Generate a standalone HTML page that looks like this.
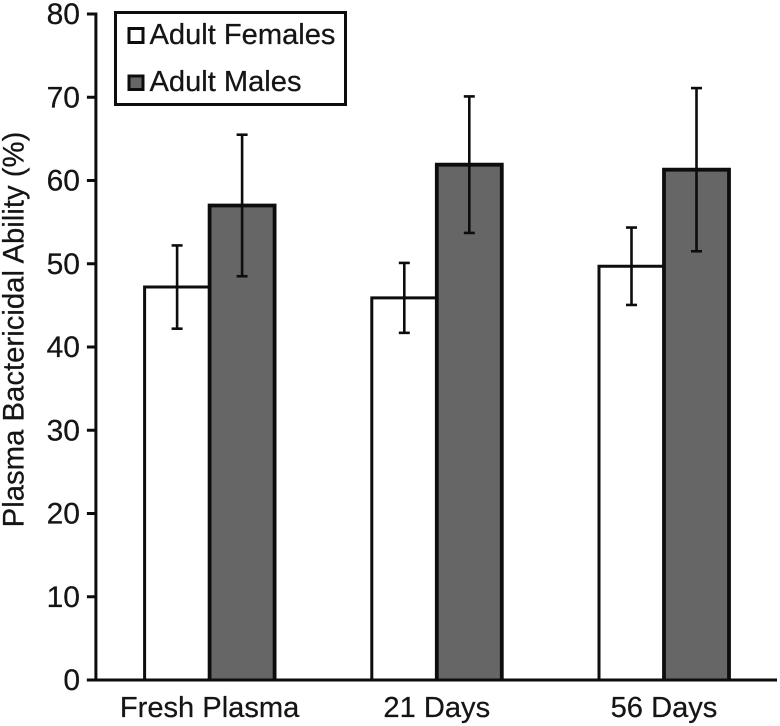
<!DOCTYPE html>
<html lang="en">
<head>
<meta charset="utf-8">
<title>Plasma Bactericidal Ability</title>
<style>
html,body{margin:0;padding:0;background:#fff;}
svg{display:block;}
text{font-family:"Liberation Sans",Arial,sans-serif;fill:#151515;stroke:#151515;stroke-width:0.25px;font-size:29.1px;}
</style>
</head>
<body>
<svg id="chart" width="780" height="726" viewBox="0 0 780 726" xmlns="http://www.w3.org/2000/svg">
  <g id="bars"></g>
  <g id="errors"></g>
  <g id="axes"></g>
  <text transform="translate(23.5,329.5) rotate(-90)" text-anchor="middle" style="font-size:29.3px">Plasma Bactericidal Ability (%)</text>
  <g>
    <rect x="115.5" y="12.5" width="230" height="92" fill="#fff" stroke="#0d0d0d" stroke-width="3"></rect>
    <rect x="129" y="28.5" width="14" height="14" fill="#fff" stroke="#0d0d0d" stroke-width="3"></rect>
    <text x="149.5" y="44">Adult Females</text>
    <rect x="129" y="76" width="14" height="13.5" fill="#666" stroke="#0d0d0d" stroke-width="3"></rect>
    <text x="149.5" y="91">Adult Males</text>
  </g>
</svg>
<script>
const categories = ['Fresh Plasma', '21 Days', '56 Days'];
const femaleValues = [47.2, 45.9, 49.7];
const maleValues = [57.0, 61.9, 61.3];
const femaleErrors = [5.0, 4.2, 4.65];
const maleErrors = [8.5, 8.2, 9.8];
const yTicks = [0, 10, 20, 30, 40, 50, 60, 70, 80];

const NS = 'http://www.w3.org/2000/svg';
const plotLeft = 95.9, plotRight = 777, plotBottom = 680, plotTop = 14;
const bandWidth = 227.2, barWidth = 65, yMax = 80;

function yScale(v) { return plotBottom - (v / yMax) * (plotBottom - plotTop); }
function xCenter(i) { return plotLeft + bandWidth * (i + 0.5) + 0.1; }

function add(parent, tag, attrs) {
  const el = document.createElementNS(NS, tag);
  for (const k in attrs) el.setAttribute(k, attrs[k]);
  parent.appendChild(el);
  return el;
}

const barsG = document.getElementById('bars');
const errorsG = document.getElementById('errors');
const axesG = document.getElementById('axes');

function drawBar(x, value, fill, sw, name) {
  const top = yScale(value);
  const el = add(barsG, 'path', {
    d: 'M' + x + ' ' + plotBottom + 'V' + top + 'H' + (x + barWidth) + 'V' + plotBottom,
    fill: fill, stroke: '#0d0d0d', 'stroke-width': sw
  });
  
  
}

function drawError(cx, value, err, name) {
  const hi = yScale(value + err), lo = yScale(value - err);
  const g = add(errorsG, 'g', { stroke: '#0d0d0d', fill: 'none' });
  
  
  add(g, 'line', { x1: cx, x2: cx, y1: hi, y2: lo, 'stroke-width': 2.6 });
  add(g, 'line', { x1: cx - 5.5, x2: cx + 5.5, y1: hi, y2: hi, 'stroke-width': 2.6 });
  add(g, 'line', { x1: cx - 5.5, x2: cx + 5.5, y1: lo, y2: lo, 'stroke-width': 2.6 });
}

categories.forEach(function (cat, i) {
  const c = xCenter(i);
  drawBar(c - barWidth, femaleValues[i], '#fff', 3, 'bar-female-' + i);
  drawBar(c, maleValues[i], '#666', 3.8, 'bar-male-' + i);
  drawError(c - barWidth / 2, femaleValues[i], femaleErrors[i], 'error-female-' + i);
  drawError(c + barWidth / 2, maleValues[i], maleErrors[i], 'error-male-' + i);
  const label = add(axesG, 'text', { x: c, y: 717, 'text-anchor': 'middle' });
  label.textContent = cat;
  
  
});

const yAxis = add(axesG, 'line', { x1: plotLeft, x2: plotLeft, y1: plotTop - 1.5, y2: plotBottom + 1.5, stroke: '#0d0d0d', 'stroke-width': 3 });


const xAxis = add(axesG, 'line', { x1: plotLeft - 9, x2: plotRight, y1: plotBottom, y2: plotBottom, stroke: '#0d0d0d', 'stroke-width': 3 });



yTicks.forEach(function (t) {
  const y = yScale(t);
  const tick = add(axesG, 'line', { x1: plotLeft - 9, x2: plotLeft, y1: y, y2: y, stroke: '#0d0d0d', 'stroke-width': 3 });
  
  
  const label = add(axesG, 'text', { x: 80, y: y + 10, 'text-anchor': 'end' });
  label.style.fontSize = '30px';
  label.textContent = t;
  
  
});
</script>
</body>
</html>
